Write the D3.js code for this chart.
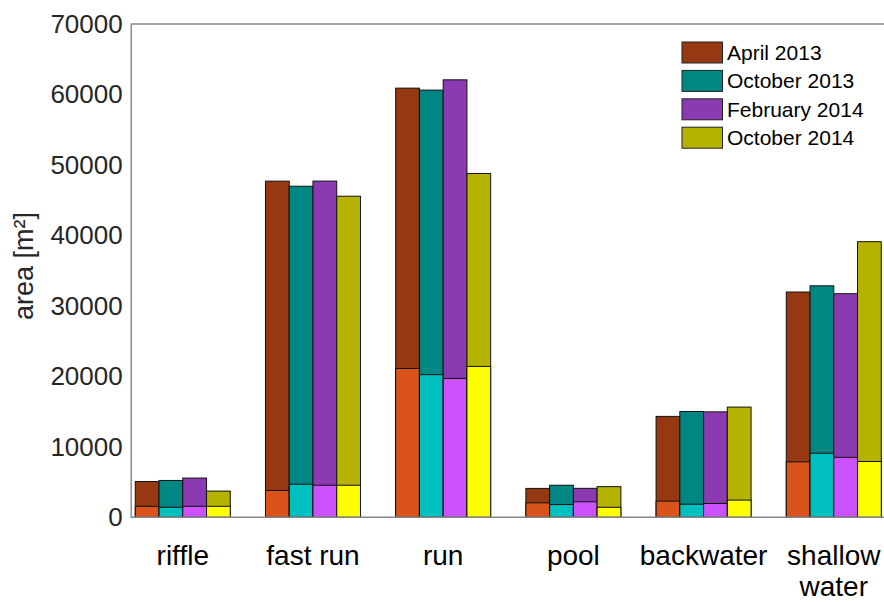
<!DOCTYPE html>
<html>
<head>
<meta charset="utf-8">
<script src="https://cdn.jsdelivr.net/npm/d3@7"></script>
<style>
  html, body { margin: 0; padding: 0; background: #fff; }
  svg { display: block; font-family: "Liberation Sans", Arial, Helvetica, sans-serif; }
</style>
</head>
<body>
<svg id="chart" width="884" height="602"></svg>
<script>
// Habitat classes along the x axis (multi-line labels as arrays of lines)
const categories = [["riffle"], ["fast run"], ["run"], ["pool"], ["backwater"], ["shallow", "water"]];

// Survey campaigns
const seasons = ["April 2013", "October 2013", "February 2014", "October 2014"];

// Total area per habitat class [m²] and the lower (sub-class) part of it
const apr2013Total = [5080, 47700, 60900, 4100, 14320, 31970];
const apr2013Lower = [1560, 3810, 21120, 2050, 2300, 7870];
const oct2013Total = [5230, 46980, 60620, 4550, 15010, 32850];
const oct2013Lower = [1420, 4690, 20240, 1810, 1860, 9090];
const feb2014Total = [5570, 47710, 62080, 4110, 14960, 31730];
const feb2014Lower = [1560, 4550, 19700, 2200, 1960, 8510];
const oct2014Total = [3720, 45560, 48790, 4350, 15640, 39110];
const oct2014Lower = [1560, 4550, 21410, 1420, 2440, 7920];

// Y tick values
const yTicks = [0, 10000, 20000, 30000, 40000, 50000, 60000, 70000];

const totals = [apr2013Total, oct2013Total, feb2014Total, oct2014Total];
const lowers = [apr2013Lower, oct2013Lower, feb2014Lower, oct2014Lower];
const darkColors = ["#963812", "#008683", "#8c3ab1", "#b5b300"];
const lightColors = ["#d9531a", "#00bfbf", "#cc52ff", "#ffff00"];

const svg = d3.select("#chart");

const plotLeft = 130.7, plotTop = 24, plotBottom = 517.3;
const unitPx = 130.2;
const x = d3.scaleLinear().domain([0.6, 6.4]).range([plotLeft, plotLeft + 5.8 * unitPx]);
const y = d3.scaleLinear().domain([0, 70000]).range([plotBottom, plotTop]);

const barW = 0.1824; // in category units
const groupW = barW * seasons.length;

// Bars: full total in the dark shade, lower part in the light shade on top of it
seasons.forEach((s, j) => {
  const g = svg.append("g").attr("class", "season");
  const rows = categories.map((c, i) => ({ i, total: totals[j][i], lower: lowers[j][i] }));
  g.selectAll("rect.total").data(rows).join("rect")
    .attr("class", "total")
    .attr("x", d => x(d.i + 1 - groupW / 2 + j * barW))
    .attr("width", d => x(barW) - x(0))
    .attr("y", d => y(d.total))
    .attr("height", d => y(0) - y(d.total))
    .attr("fill", darkColors[j])
    .attr("stroke", "#111")
    .attr("stroke-width", 1);
  g.selectAll("rect.lower").data(rows).join("rect")
    .attr("class", "lower")
    .attr("x", d => x(d.i + 1 - groupW / 2 + j * barW))
    .attr("width", d => x(barW) - x(0))
    .attr("y", d => y(d.lower))
    .attr("height", d => y(0) - y(d.lower))
    .attr("fill", lightColors[j])
    .attr("stroke", "#111")
    .attr("stroke-width", 1);
});

// Axes box (left, top, bottom)
const axisColor = "#858585";
const yAxis = svg.append("g")
  .attr("transform", `translate(${plotLeft},0)`)
  .call(d3.axisLeft(y).tickValues(yTicks).tickSize(0).tickPadding(8).tickFormat(d3.format("d")));
yAxis.select(".domain").attr("stroke", axisColor).attr("stroke-width", 1.4);
yAxis.selectAll(".tick text")
  .attr("font-family", "'Liberation Sans', Arial, sans-serif")
  .attr("font-size", 26)
  .attr("fill", "#262626");

svg.append("line").attr("x1", plotLeft).attr("x2", 884).attr("y1", plotTop).attr("y2", plotTop)
  .attr("stroke", axisColor).attr("stroke-width", 1.4);
svg.append("line").attr("x1", plotLeft).attr("x2", 884).attr("y1", plotBottom).attr("y2", plotBottom)
  .attr("stroke", axisColor).attr("stroke-width", 1.4);

// Category labels
const catLabels = svg.append("g").selectAll("text").data(categories).join("text")
  .attr("x", (d, i) => x(i + 1))
  .attr("y", 565)
  .attr("text-anchor", "middle")
  .attr("font-size", 28)
  .attr("fill", "#000");
catLabels.selectAll("tspan").data(d => d).join("tspan")
  .attr("x", function () { return d3.select(this.parentNode).attr("x"); })
  .attr("dy", (d, k) => k === 0 ? 0 : 31)
  .text(d => d);

// Y axis title
svg.append("text")
  .attr("transform", "translate(33,266) rotate(-90)")
  .attr("text-anchor", "middle")
  .attr("font-size", 27)
  .attr("fill", "#262626")
  .text("area [m²]");

// Legend
const legend = svg.append("g").attr("transform", "translate(682,42)");
const items = legend.selectAll("g").data(seasons).join("g")
  .attr("transform", (d, j) => `translate(0,${j * 28.4})`);
items.append("rect")
  .attr("width", 40.5).attr("height", 21)
  .attr("fill", (d, j) => darkColors[j])
  .attr("stroke", "#222").attr("stroke-width", 1);
items.append("text")
  .attr("x", 45).attr("y", 18)
  .attr("font-size", 21)
  .attr("fill", "#000")
  .text(d => d);
</script>
</body>
</html>
